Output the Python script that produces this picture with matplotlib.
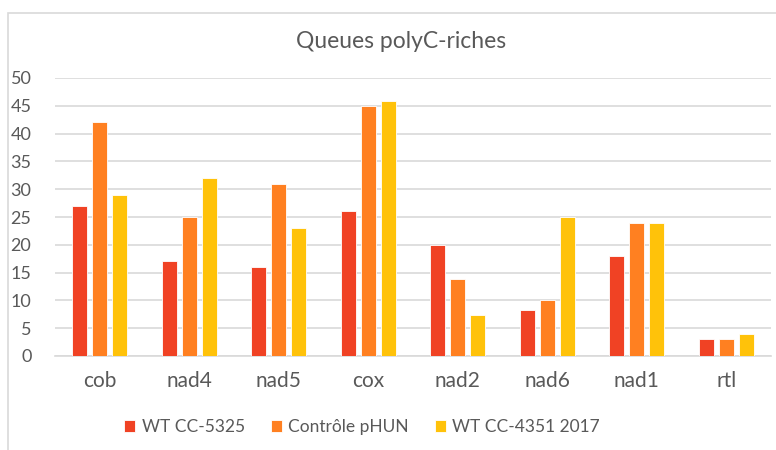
import matplotlib
matplotlib.use("Agg")
import matplotlib.pyplot as plt
import numpy as np
from matplotlib.patches import Rectangle

categories = ["cob", "nad4", "nad5", "cox", "nad2", "nad6", "nad1", "rtl"]
series_names = ["WT CC-5325", "Contrôle pHUN", "WT CC-4351 2017"]
wt_5325 = [27, 17, 16, 26, 20, 8.3, 18, 3]
controle_phun = [42, 25, 31, 45, 13.8, 10.1, 23.9, 3]
wt_4351 = [28.9, 32.1, 23, 45.8, 7.4, 25, 23.9, 3.9]
yticks = [0, 5, 10, 15, 20, 25, 30, 35, 40, 45, 50]

colors = ["#F04224", "#FF8021", "#FFC20A"]
text_color = "#595959"

plt.rcParams["font.family"] = ["Lato", "DejaVu Sans"]

W, H = 776, 450
fig = plt.figure(figsize=(W / 100, H / 100), dpi=100)

# outer chart frame (only top and left edges fall inside the canvas)
fig.patches.append(Rectangle((8 / W, -0.1), 1.2, 1 - 13 / H + 0.1,
                             transform=fig.transFigure, fill=False,
                             edgecolor="#D9D9D9", linewidth=1.2))

left, right = 55 / W, 771 / W
bottom, top = 1 - 356 / H, 1 - 78 / H
ax = fig.add_axes([left, bottom, right - left, top - bottom])

x = np.arange(len(categories))
width = 0.17
step = 0.225
for i, (vals, name) in enumerate(zip([wt_5325, controle_phun, wt_4351], series_names)):
    ax.bar(x + (i - 1) * step, vals, width, color=colors[i], label=name,
           edgecolor="white", linewidth=0.6, zorder=3)

ax.set_xlim(-0.5, len(categories) - 0.5)
ax.set_ylim(0, 50)
ax.set_yticks(yticks)
ax.set_yticklabels([str(v) for v in yticks], fontsize=13, color=text_color)
ax.set_xticks(x)
ax.set_xticklabels(categories, fontsize=15, color=text_color)
ax.tick_params(axis="both", length=0)
ax.tick_params(axis="y", pad=17)
ax.tick_params(axis="x", pad=11)
ax.yaxis.grid(True, color="#D9D9D9", linewidth=1.2, zorder=0)
for s in ["top", "right", "left"]:
    ax.spines[s].set_visible(False)
ax.spines["bottom"].set_color("#D9D9D9")
ax.spines["bottom"].set_linewidth(1.2)

fig.text(401 / W, 1 - 42 / H, "Queues polyC-riches", ha="center", va="center",
         fontsize=16.5, color=text_color)

leg = fig.legend(loc="center", bbox_to_anchor=(362 / W, 1 - 427 / H), ncol=3,
                 frameon=False, fontsize=12.5, handlelength=0.65, handleheight=0.65,
                 handletextpad=0.35, columnspacing=1.5)
for t in leg.get_texts():
    t.set_color(text_color)

fig.savefig("out.png", dpi=100)
